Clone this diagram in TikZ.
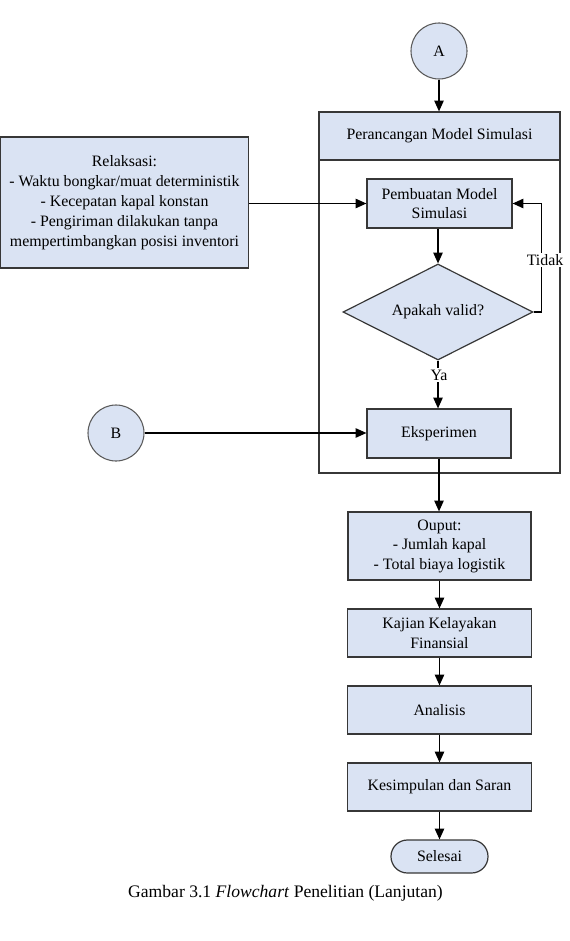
\documentclass[tikz,border=0pt]{standalone}
\usepackage{fontspec}
\setmainfont{Liberation Serif}
\usetikzlibrary{shapes.geometric,arrows.meta}
\definecolor{boxfill}{RGB}{218,227,243}
\definecolor{boxline}{RGB}{55,55,55}
\definecolor{circline}{RGB}{90,90,90}
\begin{document}
\begin{tikzpicture}[x=0.75pt,y=-0.75pt,
  font=\rmfamily\fontsize{11.9}{14.6}\selectfont,
  box/.style={draw=boxline, fill=boxfill, line width=0.9pt, inner sep=0pt, align=center},
  conn/.style={circle, draw=circline, fill=boxfill, line width=0.8pt, minimum size=42pt, inner sep=0pt},
  arr/.style={-{Triangle[length=8pt,width=7pt]}, line width=0.9pt, black},
  plain/.style={line width=0.9pt, black},
  lbl/.style={fill=white, inner sep=1pt}]
\useasboundingbox (0,0) rectangle (569,941);

% container
\node[draw=boxline, line width=0.9pt, minimum width=180.75pt, minimum height=270.75pt, inner sep=0pt] (frame) at (439.5,292.5) {};
\node[box, minimum width=180.75pt, minimum height=36pt] (head) at (439.5,136) {Perancangan Model Simulasi};

\node[conn] (A) at (439,51) {A};
\node[conn] (B) at (116,433) {B};

\node[box, minimum width=108.75pt, minimum height=36.75pt] (pem) at (439.5,203.5) {Pembuatan Model\\Simulasi};
\node[box, minimum width=186pt, minimum height=98.25pt, font=\rmfamily\fontsize{11.9}{15}\selectfont] (rel) at (124.5,202.5) {Relaksasi:\\- Waktu bongkar/muat deterministik\\- Kecepatan kapal konstan\\- Pengiriman dilakukan tanpa\\mempertimbangkan posisi inventori};
\node[box, diamond, shape aspect=1.98, minimum width=142.5pt, minimum height=72pt] (dia) at (438,312) {Apakah valid?};
\node[box, minimum width=108pt, minimum height=36.75pt] (eks) at (439,433.5) {Eksperimen};
\node[box, minimum width=137.25pt, minimum height=51pt] (out) at (439.5,546) {Ouput:\\- Jumlah kapal\\- Total biaya logistik};
\node[box, minimum width=138pt, minimum height=36pt] (kaj) at (439.5,633) {Kajian Kelayakan\\Finansial};
\node[box, minimum width=138pt, minimum height=36pt] (ana) at (439.5,710) {Analisis};
\node[box, minimum width=138pt, minimum height=36pt] (kes) at (439.5,787) {Kesimpulan dan Saran};
\node[box, minimum width=72.75pt, minimum height=24.75pt, rounded corners=12.3pt] (sel) at (439.5,856.5) {Selesai};

\node[font=\rmfamily\fontsize{13.2}{15}\selectfont] (cap) at (285.5,893) {Gambar 3.1 \textit{Flowchart} Penelitian (Lanjutan)};

% connectors
\draw[arr] (A.south) -- (A.south |- head.north);
\draw[arr] (rel.east |- pem.west) -- (pem.west);
\draw[arr] (pem.south -| dia.north) -- (dia.north);
\draw[arr] (dia.east) -- ++(8,0) |- (pem.east);
\node[lbl] (tidak) at (545,260) {Tidak};
\draw[arr] (dia.south) -- (dia.south |- eks.north);
\node[lbl] (ya) at (439,375) {Ya};
\draw[arr] (B.east) -- (B.east -| eks.west);
\draw[arr] (eks.south) -- (eks.south |- out.north);
\draw[arr] (out.south) -- (out.south |- kaj.north);
\draw[arr] (kaj.south) -- (kaj.south |- ana.north);
\draw[arr] (ana.south) -- (ana.south |- kes.north);
\draw[arr] (kes.south) -- (kes.south |- sel.north);
\end{tikzpicture}
\end{document}
